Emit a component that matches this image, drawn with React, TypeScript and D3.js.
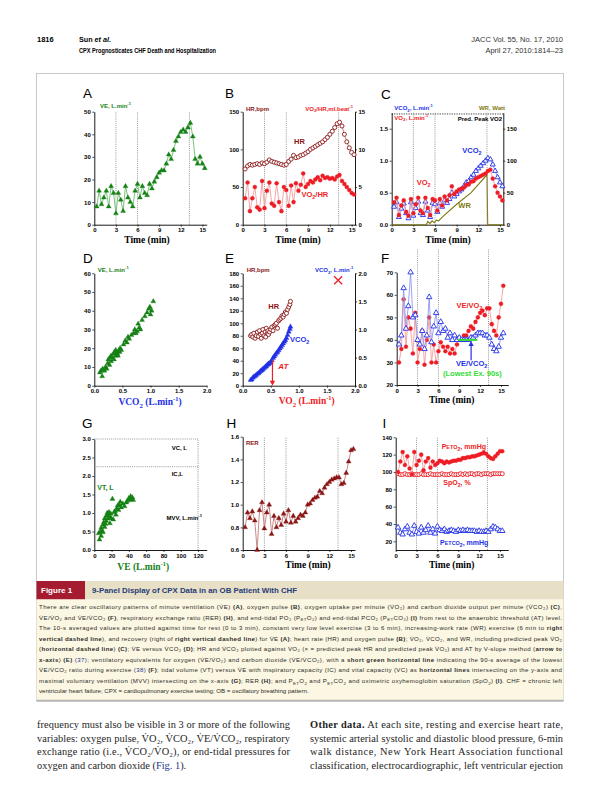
import * as d3 from 'd3';
import { useEffect, useRef } from 'react';

// 10-s averaged CPX data, read every 20 s (minutes)
const TIME = [0.33, 0.67, 1, 1.33, 1.67, 2, 2.33, 2.67, 3, 3.33, 3.67, 4, 4.33, 4.67, 5, 5.33, 5.67, 6, 6.33, 6.67, 7, 7.33, 7.67, 8, 8.33, 8.67, 9, 9.33, 9.67, 10, 10.33, 10.67, 11, 11.33, 11.67, 12, 12.33, 12.67, 13, 13.33, 13.67, 14, 14.33, 14.67, 15, 15.33];
const PHASE_LINES = [3, 6, 13.2];

// A: minute ventilation (L/min)
const VE = [8, 15, 9, 12, 15, 8, 17, 14, 5, 14, 11, 6, 17, 12, 10, 8, 15, 18, 12, 17, 14, 13, 18, 16, 19, 21, 23, 24, 24, 27, 31, 29, 33, 37, 39, 41, 42, 41, 43, 45, 39, 29, 27, 30, 27, 25];
// B: heart rate (bpm) and oxygen pulse (ml/beat)
const HR = [74, 78, 80, 79, 80, 81, 80, 82, 81, 83, 86, 84, 83, 82, 81, 80, 79, 80, 84, 87, 92, 89, 90, 92, 93, 95, 97, 100, 102, 104, 106, 108, 110, 113, 116, 120, 124, 129, 134, 136, 131, 120, 110, 102, 96, 93];
const O2_PULSE = [3.5, 5.6, 1.8, 3.5, 5.0, 2.3, 2.0, 5.8, 2.2, 4.5, 5.6, 2.8, 2.5, 5.5, 3.0, 1.8, 5.0, 4.6, 2.5, 5.2, 3.0, 5.5, 4.5, 5.3, 6.8, 5.0, 5.4, 5.8, 5.6, 6.0, 6.3, 5.9, 6.5, 6.2, 6.3, 6.1, 6.2, 6.0, 6.4, 6.6, 5.8, 5.4, 5.0, 4.6, 4.2, 4.0];
// C: VO2, VCO2 (L/min) and work rate (W)
const VO2 = [0.35, 0.42, 0.15, 0.30, 0.38, 0.20, 0.14, 0.40, 0.18, 0.32, 0.42, 0.22, 0.18, 0.42, 0.26, 0.15, 0.40, 0.38, 0.22, 0.40, 0.30, 0.44, 0.38, 0.46, 0.60, 0.48, 0.52, 0.55, 0.56, 0.58, 0.62, 0.63, 0.67, 0.68, 0.72, 0.74, 0.76, 0.78, 0.80, 0.84, 0.86, 0.72, 0.60, 0.50, 0.44, 0.38];
const VCO2 = [0.28, 0.35, 0.12, 0.25, 0.33, 0.18, 0.10, 0.35, 0.14, 0.26, 0.36, 0.18, 0.15, 0.36, 0.22, 0.12, 0.34, 0.32, 0.20, 0.34, 0.28, 0.38, 0.34, 0.40, 0.50, 0.44, 0.48, 0.52, 0.55, 0.60, 0.66, 0.68, 0.74, 0.78, 0.84, 0.88, 0.92, 0.96, 1.00, 1.04, 1.02, 0.94, 0.84, 0.74, 0.66, 0.60];
const WR_TIME = [0, 4.8, 5.0, 5.3, 5.6, 5.9, 6.2, 6.5, 7.0, 9.0, 11.0, 13.2, 13.3, 15.4];
const WR_WATT = [0, 0, 5, 2, 6, 3, 7, 6, 12, 32, 50, 78, 0, 0];
const PRED_PEAK_VO2 = 1.73;
// D: VE versus VCO2
const VCO2_D = [0.10, 0.12, 0.14, 0.15, 0.18, 0.20, 0.22, 0.24, 0.25, 0.27, 0.28, 0.30, 0.30, 0.32, 0.34, 0.35, 0.36, 0.38, 0.38, 0.40, 0.41, 0.42, 0.44, 0.45, 0.46, 0.48, 0.52, 0.55, 0.58, 0.60, 0.62, 0.66, 0.70, 0.72, 0.74, 0.76, 0.78, 0.80, 0.82, 0.85, 0.90, 0.94, 0.97, 0.99, 1.00, 1.02, 1.05];
const VE_D = [7, 8, 5, 9, 8, 10, 9, 12, 14, 11, 15, 13, 16, 15, 17, 14, 18, 16, 19, 18, 17, 16, 19, 18, 20, 19, 22, 24, 23, 26, 25, 27, 28, 30, 28, 29, 33, 31, 30, 35, 37, 39, 41, 42, 38, 40, 45];
// E: HR and VCO2 versus VO2
const VO2_E = [0.14, 0.16, 0.18, 0.20, 0.22, 0.24, 0.26, 0.28, 0.30, 0.32, 0.33, 0.35, 0.36, 0.38, 0.40, 0.41, 0.42, 0.44, 0.45, 0.46, 0.48, 0.50, 0.52, 0.54, 0.56, 0.58, 0.60, 0.62, 0.64, 0.66, 0.68, 0.70, 0.72, 0.74, 0.76, 0.78, 0.80, 0.82, 0.84, 0.85];
const HR_E = [80, 82, 78, 84, 76, 80, 86, 79, 88, 82, 76, 84, 90, 80, 86, 78, 92, 84, 88, 82, 86, 90, 94, 88, 96, 98, 100, 92, 104, 106, 108, 112, 110, 114, 118, 116, 122, 126, 130, 135];
const VCO2_E = [0.10, 0.11, 0.14, 0.16, 0.17, 0.19, 0.21, 0.22, 0.24, 0.26, 0.27, 0.28, 0.30, 0.31, 0.33, 0.34, 0.35, 0.37, 0.38, 0.39, 0.40, 0.42, 0.45, 0.49, 0.52, 0.55, 0.58, 0.60, 0.63, 0.66, 0.69, 0.72, 0.75, 0.78, 0.81, 0.85, 0.90, 0.96, 1.01, 1.05];
const AT_VO2 = 0.53;
const AT_VCO2 = 0.46;
const PRED_PEAK = { vo2: 1.7, hr: 169 };
// F: ventilatory equivalents
const VE_VO2 = [30, 36, 58, 37, 50, 45, 34, 52, 30, 36, 44, 29, 40, 50, 30, 38, 30, 35, 39, 37, 35, 37, 34, 36, 34, 38, 41, 40, 42, 42, 44, 46, 45, 48, 50, 52, 53, 51, 54, 54, 47, 44, 42, 50, 56, 64];
const VE_VCO2 = [38, 42, 63, 45, 55, 70, 50, 51, 40, 38, 44, 36, 42, 59, 39, 46, 52, 43, 48, 44, 45, 41, 43, 40, 42, 40, 41, 40, 40, 40, 40, 41, 41, 42, 43, 43, 43, 42, 42, 41, 38, 36, 35, 37, 41, 43];
const LOWEST_90S = { from: 8.8, to: 11.6, value: 40 };
// G: tidal volume versus VE
const VE_G = [5, 6, 7, 8, 8, 9, 10, 10, 11, 12, 12, 13, 14, 14, 15, 16, 16, 17, 18, 18, 19, 20, 21, 22, 23, 24, 25, 26, 27, 28, 29, 30, 31, 33, 35, 37, 38, 40, 41, 42, 43, 44, 45];
const VT_G = [0.45, 0.28, 0.50, 0.38, 0.60, 0.52, 0.68, 0.48, 0.75, 0.62, 0.85, 0.70, 0.92, 0.78, 1.00, 0.85, 0.95, 1.02, 0.90, 0.72, 0.98, 0.85, 1.38, 0.82, 1.02, 1.05, 0.95, 1.12, 1.20, 1.08, 1.22, 1.30, 1.15, 1.25, 1.18, 1.28, 1.32, 1.40, 1.35, 1.45, 1.38, 1.42, 1.35];
const VC = 3.0;
const IC = 2.25;
const MVV = 120;
// H: respiratory exchange ratio
const RER = [0.80, 0.93, 0.88, 0.94, 0.86, 0.60, 0.95, 1.02, 0.79, 0.93, 1.00, 0.74, 0.90, 0.80, 0.88, 0.82, 0.92, 0.85, 0.95, 0.84, 0.90, 0.85, 0.88, 0.91, 0.90, 0.93, 1.00, 1.01, 1.04, 1.06, 1.07, 1.12, 1.10, 1.15, 1.18, 1.20, 1.22, 1.23, 1.24, 1.24, 1.18, 1.19, 1.28, 1.38, 1.48, 1.49];
// I: end-tidal pressures and saturation
const PETO2 = [100, 112, 123, 108, 118, 104, 97, 123, 108, 113, 120, 102, 112, 116, 105, 112, 108, 110, 113, 112, 110, 112, 111, 112, 113, 113, 114, 114, 116, 116, 117, 117, 118, 118, 119, 120, 121, 122, 121, 118, 116, 115, 118, 121, 124, 124];
const SPO2 = [98, 97, 97, 98, 97, 97, 98, 97, 97, 97, 98, 97, 97, 97, 98, 97, 97, 97, 97, 98, 97, 97, 97, 98, 97, 97, 97, 98, 97, 98, 97, 98, 98, 97, 98, 98, 97, 98, 98, 98, 97, 98, 98, 98, 98, 98];
const PETCO2 = [36, 30, 28, 34, 37, 30, 28, 38, 31, 29, 36, 30, 33, 38, 30, 34, 29, 37, 33, 32, 34, 31, 32, 33, 32, 31, 33, 32, 33, 32, 33, 32, 32, 32, 31, 32, 31, 31, 32, 31, 34, 37, 36, 34, 32, 32];

const TIME_TICKS = [0, 3, 6, 9, 12, 15];

const GREEN = '#168216';
const GREEN_LINE = '#6dbb6d';
const BROWN = '#8a1616';
const BROWN_LINE = '#c47a7a';
const RED = '#ee1c24';
const RED_LINE = '#f59c9c';
const BLUE = '#2230e6';
const BLUE_LINE = '#9097f0';
const OLIVE = '#7e7a10';
const LIME = '#33dd33';
const LINK = '#26348f';

const SANS = '"Liberation Sans", Arial, sans-serif';
const SERIF = '"Liberation Serif", "Times New Roman", serif';

const sub = (s: string) => [s, 'sub'];
const sup = (s: string) => [s, 'sup'];

// text with sub/superscripts, bold/link runs
function rich(parent: any, x: number, y: number, parts: any[], o: any = {}) {
  const size = o.size ?? 6;
  const t = parent
    .append('text')
    .attr('x', x)
    .attr('y', y)
    .attr('text-anchor', o.anchor ?? 'start')
    .attr('fill', o.color ?? '#000')
    .style('font-family', o.family ?? SANS)
    .style('font-size', `${size}px`)
    .style('font-weight', o.weight ?? 'bold');
  if (o.italic) t.style('font-style', 'italic');
  let shift = 0;
  for (const [s, k] of parts) {
    const ts = t.append('tspan').text(s);
    let target = 0;
    if (k === 'sub') {
      target = size * 0.28;
      ts.style('font-size', `${size * 0.72}px`);
    } else if (k === 'sup') {
      target = -size * 0.42;
      ts.style('font-size', `${size * 0.68}px`);
    } else if (k === 'sm') {
      ts.style('font-size', `${size * 0.78}px`);
    } else if (k === 'b') {
      ts.style('font-weight', 'bold');
    } else if (k === 'bi') {
      ts.style('font-weight', 'bold').style('font-style', 'italic');
    } else if (k === 'l') {
      ts.attr('fill', LINK);
    }
    if (target !== shift) {
      ts.attr('dy', target - shift);
      shift = target;
    }
  }
  if (o.width) t.attr('textLength', o.width).attr('lengthAdjust', o.adjust ?? 'spacing');
  return t;
}

function frame(svg: any, o: any) {
  const g = svg.append('g');
  const x = d3.scaleLinear().domain(o.xd).range([o.l, o.r]);
  const y = d3.scaleLinear().domain(o.yd).range([o.b, o.t]);
  const yR = o.yrd ? d3.scaleLinear().domain(o.yrd).range([o.b, o.t]) : null;

  if (o.phase) {
    g.selectAll(null)
      .data(o.phase)
      .join('line')
      .attr('x1', (d: number) => x(d))
      .attr('x2', (d: number) => x(d))
      .attr('y1', o.b)
      .attr('y2', o.phaseTop ?? o.t)
      .attr('stroke', '#8c8c8c')
      .attr('stroke-width', 0.9)
      .attr('stroke-dasharray', '1,1.1');
  }

  const style = (sel: any) => {
    sel.attr('font-family', SANS).attr('font-size', 6).attr('font-weight', 'bold');
    sel.select('.domain').attr('stroke-width', 0.9);
    sel.selectAll('.tick line').attr('stroke-width', 0.7);
  };
  const fmt = (f: string | undefined) => (f ? d3.format(f) : d3.format('d'));

  g.append('g')
    .attr('transform', `translate(0,${o.b})`)
    .call(d3.axisBottom(x).tickValues(o.xt ?? TIME_TICKS).tickFormat(fmt(o.xf) as any).tickSize(2).tickSizeOuter(0).tickPadding(1.5))
    .call(style);
  g.append('g')
    .attr('transform', `translate(${o.l},0)`)
    .call(d3.axisLeft(y).tickValues(o.yt).tickFormat(fmt(o.yf) as any).tickSize(2).tickSizeOuter(0).tickPadding(1.5))
    .call(style);
  if (yR) {
    g.append('g')
      .attr('transform', `translate(${o.r},0)`)
      .call(d3.axisRight(yR).tickValues(o.yrt).tickFormat(fmt(o.yrf) as any).tickSize(2).tickSizeOuter(0).tickPadding(1.5))
      .call(style);
  }
  return { g, x, y, yR };
}

function plot(g: any, xs: number[], ys: number[], x: any, y: any, o: any) {
  const pts = xs.map((v, i) => [x(v), y(ys[i])] as [number, number]);
  if (o.line) {
    g.append('path')
      .attr('d', d3.line()(pts))
      .attr('fill', 'none')
      .attr('stroke', o.line)
      .attr('stroke-width', 0.9);
  }
  const sym = o.shape === 'tri' ? d3.symbol(d3.symbolTriangle, o.size ?? 11) : d3.symbol(d3.symbolCircle, o.size ?? 13);
  g.append('g')
    .selectAll('path')
    .data(pts)
    .join('path')
    .attr('transform', (d: number[]) => `translate(${d[0]},${d[1]})`)
    .attr('d', sym() as string)
    .attr('fill', o.open ? '#fff' : o.color)
    .attr('stroke', o.color)
    .attr('stroke-width', o.open ? 0.9 : 0.3);
}

function letter(svg: any, x: number, y: number, s: string) {
  svg
    .append('text')
    .attr('x', x)
    .attr('y', y)
    .style('font-family', SANS)
    .style('font-size', '13.5px')
    .text(s);
}

function timeTitle(svg: any, x: number, y: number) {
  rich(svg, x, y, [['Time (min)']], { anchor: 'middle', family: SERIF, size: 9.5 });
}

function arrowHead(g: any, x: number, y: number, dir: number, color: string) {
  // dir = 1 pointing down, -1 pointing up
  g.append('path')
    .attr('d', `M${x - 2.6},${y - 5 * dir} L${x},${y} L${x + 2.6},${y - 5 * dir} Z`)
    .attr('fill', color);
}

const CAPTION: any[][] = [
  [['There are clear oscillatory patterns of minute ventilation (V\u0307E) '], ['(A)', 'b'], [', oxygen pulse '], ['(B)', 'b'], [', oxygen uptake per minute (V\u0307O\u2082) and carbon dioxide output per minute (V\u0307CO\u2082) '], ['(C)', 'b'], [',']],
  [['V\u0307E/V\u0307O\u2082 and V\u0307E/V\u0307CO\u2082 '], ['(F)', 'b'], [', respiratory exchange ratio (RER) '], ['(H)', 'b'], [', and end-tidal PO\u2082 (P'], sub('ET'), ['O\u2082) and end-tidal PCO\u2082 (P'], sub('ET'), ['CO\u2082) '], ['(I)', 'b'], [' from rest to the anaerobic threshold (AT) level.']],
  [['The 10-s averaged values are plotted against time for rest (0 to 3 min), constant very low level exercise (3 to 6 min), increasing-work rate (WR) exercise (6 min to '], ['right', 'b']],
  [['vertical dashed line', 'b'], ['), and recovery (right of '], ['right vertical dashed line', 'b'], [') for V\u0307E '], ['(A)', 'b'], ['; heart rate (HR) and oxygen pulse '], ['(B)', 'b'], ['; V\u0307O\u2082, V\u0307CO\u2082, and WR, including predicted peak V\u0307O\u2082']],
  [['('], ['horizontal dashed line', 'b'], [') '], ['(C)', 'b'], ['; V\u0307E versus V\u0307CO\u2082 '], ['(D)', 'b'], ['; HR and V\u0307CO\u2082 plotted against V\u0307O\u2082 (\u00d7 = predicted peak HR and predicted peak V\u0307O\u2082) and AT by V-slope method ('], ['arrow to', 'b']],
  [['x-axis', 'b'], [') '], ['(E)', 'b'], [' '], ['(37)', 'l'], ['; ventilatory equivalents for oxygen (V\u0307E/V\u0307O\u2082) and carbon dioxide (V\u0307E/V\u0307CO\u2082), with a '], ['short green horizontal line', 'b'], [' indicating the 90-s average of the lowest']],
  [['V\u0307E/V\u0307CO\u2082 ratio during exercise '], ['(38)', 'l'], [' '], ['(F)', 'b'], ['; tidal volume (VT) versus V\u0307E with inspiratory capacity (IC) and vital capacity (VC) as '], ['horizontal lines', 'b'], [' intersecting on the y-axis and']],
  [['maximal voluntary ventilation (MVV) intersecting on the x-axis '], ['(G)', 'b'], ['; RER '], ['(H)', 'b'], ['; and P'], sub('ET'), ['O'], sub('2'), [' and P'], sub('ET'), ['CO'], sub('2'), [' and oximetric oxyhemoglobin saturation (SpO'], sub('2'), [') '], ['(I)', 'b'], ['. CHF = chronic left']],
  [['ventricular heart failure; CPX = cardiopulmonary exercise testing; OB = oscillatory breathing pattern.']],
];

const BODY_LEFT: any[][] = [
  [['frequency must also be visible in 3 or more of the following']],
  [['variables: oxygen pulse, V\u0307O\u2082, V\u0307CO\u2082, V\u0307E/V\u0307CO\u2082, respiratory']],
  [['exchange ratio (i.e., V\u0307CO\u2082/V\u0307O\u2082), or end-tidal pressures for']],
  [['oxygen and carbon dioxide ('], ['Fig. 1', 'l'], [').']],
];
const BODY_RIGHT: any[][] = [
  [['Other data.', 'b'], [' At each site, resting and exercise heart rate,']],
  [['systemic arterial systolic and diastolic blood pressure, 6-min']],
  [['walk distance, New York Heart Association functional']],
  [['classification, electrocardiographic, left ventricular ejection']],
];

function drawPage(svg: any) {
  // ---- running head ----
  rich(svg, 37, 42, [['1816']], { size: 7.5 });
  rich(svg, 79, 42, [['Sun '], ['et al.', 'bi']], { size: 7.2 });
  rich(svg, 79, 53, [['CPX Prognosticates CHF Death and Hospitalization']], { size: 7.8, width: 137, adjust: 'spacingAndGlyphs' });
  rich(svg, 563, 42, [['JACC Vol. 55, No. 17, 2010']], { size: 7.5, weight: 'normal', anchor: 'end', color: '#333' });
  rich(svg, 563, 53, [['April 27, 2010:1814\u201323']], { size: 7.5, weight: 'normal', anchor: 'end', color: '#333' });

  // ---- figure frame ----
  svg.append('rect').attr('x', 36.5).attr('y', 73.5).attr('width', 527).attr('height', 627).attr('fill', 'none').attr('stroke', '#c4c4c4').attr('stroke-width', 0.9);

  // ---- A ----
  letter(svg, 83, 98.3, 'A');
  const A = frame(svg, { l: 94.3, r: 206.7, t: 111.7, b: 224.7, xd: [0, 15.6], yd: [0, 50], yt: [0, 10, 20, 30, 40, 50], phase: PHASE_LINES });
  plot(A.g, TIME, VE, A.x, A.y, { shape: 'tri', color: GREEN, line: GREEN_LINE });
  rich(svg, 100, 107.5, [['VE, L.min'], sup('-1')], { color: GREEN });
  timeTitle(svg, 147, 243);

  // ---- B ----
  letter(svg, 225, 98.3, 'B');
  const B = frame(svg, { l: 242.7, r: 355, t: 111.7, b: 224.7, xd: [0, 15.46], yd: [0, 150], yt: [0, 50, 100, 150], yrd: [0, 15], yrt: [0, 5, 10, 15], phase: PHASE_LINES });
  plot(B.g, TIME, HR, B.x, B.y, { shape: 'circle', color: BROWN, line: BROWN_LINE, open: true });
  plot(B.g, TIME, O2_PULSE, B.x, B.yR, { shape: 'circle', color: RED, line: RED_LINE });
  rich(svg, 246, 110.5, [['HR,bpm']], { color: BROWN });
  rich(svg, 353, 110.5, [['VO'], sub('2'), ['/HR,ml.beat'], sup('-1')], { color: RED, anchor: 'end' });
  rich(svg, 294, 144, [['HR']], { color: BROWN, size: 7.5 });
  rich(svg, 301.5, 196.5, [['VO'], sub('2'), ['/HR']], { color: RED, size: 7.5 });
  timeTitle(svg, 298, 243);

  // ---- C ----
  letter(svg, 381, 99, 'C');
  const C = frame(svg, { l: 391.7, r: 503.3, t: 112.7, b: 224.7, xd: [0, 15.46], yd: [0, 1.75], yt: [0, 0.5, 1, 1.5], yf: '.1f', yrd: [0, 175], yrt: [0, 50, 100, 150] });
  C.g.append('line')
    .attr('x1', C.x(0)).attr('x2', C.x(15.46))
    .attr('y1', C.y(PRED_PEAK_VO2)).attr('y2', C.y(PRED_PEAK_VO2))
    .attr('stroke', '#222').attr('stroke-width', 0.9).attr('stroke-dasharray', '1.2,1.2');
  C.g.append('path')
    .attr('d', d3.line<number>().x((v) => C.x(v)).y((_, i) => C.yR!(WR_WATT[i]))(WR_TIME))
    .attr('fill', 'none').attr('stroke', OLIVE).attr('stroke-width', 1.1);
  C.g.selectAll(null).data(PHASE_LINES).join('line')
    .attr('x1', (d: number) => C.x(d)).attr('x2', (d: number) => C.x(d))
    .attr('y1', C.y(0)).attr('y2', C.y(1.75))
    .attr('stroke', '#8c8c8c').attr('stroke-width', 0.9).attr('stroke-dasharray', '1,1.1');
  plot(C.g, TIME, VCO2, C.x, C.y, { shape: 'tri', color: BLUE, line: BLUE_LINE, open: true });
  plot(C.g, TIME, VO2, C.x, C.y, { shape: 'circle', color: RED, line: RED_LINE });
  rich(svg, 394.3, 110, [['VCO'], sub('2'), [', L.min'], sup('-1')], { color: BLUE });
  rich(svg, 394.3, 119.5, [['VO'], sub('2'), [', L.min'], sup('-1')], { color: RED });
  rich(svg, 505, 109.5, [['WR, Watt']], { color: OLIVE, anchor: 'end' });
  rich(svg, 502, 121, [['Pred. Peak VO2']], { anchor: 'end' });
  rich(svg, 462.3, 153, [['VCO'], sub('2')], { color: BLUE, size: 7.5 });
  rich(svg, 416.7, 184.5, [['VO'], sub('2')], { color: RED, size: 7.5 });
  rich(svg, 458.3, 207.5, [['WR']], { color: OLIVE, size: 7.5 });
  timeTitle(svg, 448, 243);

  // ---- D ----
  letter(svg, 83, 263.3, 'D');
  const D = frame(svg, { l: 94.3, r: 206.7, t: 273.3, b: 385.7, xd: [0, 2], yd: [0, 60], xt: [0, 0.5, 1, 1.5, 2], xf: '.1f', yt: [0, 10, 20, 30, 40, 50, 60] });
  plot(D.g, VCO2_D, VE_D, D.x, D.y, { shape: 'tri', color: GREEN });
  rich(svg, 97.7, 272, [['VE, L.min'], sup('-1')], { color: GREEN });
  rich(svg, 150, 405, [['VCO'], sub('2'), [' (L.min'], sup('-1'), [')']], { anchor: 'middle', family: SERIF, size: 9.5, color: BLUE });

  // ---- E ----
  letter(svg, 225, 263.3, 'E');
  const E = frame(svg, { l: 242.7, r: 355, t: 273.3, b: 385.7, xd: [0, 2], yd: [0, 180], xt: [0, 0.5, 1, 1.5, 2], xf: '.1f', yt: [0, 20, 40, 60, 80, 100, 120, 140, 160, 180], yrd: [0, 2], yrt: [0, 0.5, 1, 1.5, 2], yrf: '.1f' });
  plot(E.g, VO2_E, HR_E, E.x, E.y, { shape: 'circle', color: BROWN, open: true });
  plot(E.g, VO2_E, VCO2_E, E.x, E.yR, { shape: 'tri', color: BLUE });
  const px = E.x(PRED_PEAK.vo2);
  const py = E.y(PRED_PEAK.hr);
  E.g.append('path')
    .attr('d', `M${px - 4},${py - 4}L${px + 4},${py + 4}M${px - 4},${py + 4}L${px + 4},${py - 4}`)
    .attr('stroke', RED).attr('stroke-width', 1.3);
  E.g.append('line')
    .attr('x1', E.x(AT_VO2)).attr('x2', E.x(AT_VO2))
    .attr('y1', E.yR!(AT_VCO2)).attr('y2', E.yR!(0) - 4)
    .attr('stroke', RED).attr('stroke-width', 1.2);
  arrowHead(E.g, E.x(AT_VO2), E.yR!(0), 1, RED);
  rich(svg, 246.7, 272, [['HR,bpm']], { color: BROWN });
  rich(svg, 353.3, 272, [['VCO'], sub('2'), [', L.min'], sup('-1')], { color: BLUE, anchor: 'end' });
  rich(svg, 268.3, 308.5, [['HR']], { color: BROWN, size: 7.5 });
  rich(svg, 290, 342, [['VCO'], sub('2')], { color: BLUE, size: 7.5 });
  rich(svg, 278.3, 368.5, [['AT']], { color: RED, size: 8, italic: true });
  rich(svg, 306.7, 404, [['VO'], sub('2'), [' (L.min'], sup('-1'), [')']], { anchor: 'middle', family: SERIF, size: 9.5, color: RED });

  // ---- F ----
  letter(svg, 381, 263.3, 'F');
  const F = frame(svg, { l: 396.7, r: 508.3, t: 272.3, b: 385, xd: [0, 16.05], yd: [20, 70], yt: [20, 30, 40, 50, 60, 70], phase: PHASE_LINES, phaseTop: 249 });
  plot(F.g, TIME, VE_VO2, F.x, F.y, { shape: 'circle', color: RED, line: RED_LINE });
  plot(F.g, TIME, VE_VCO2, F.x, F.y, { shape: 'tri', color: BLUE, line: BLUE_LINE, open: true, size: 13 });
  F.g.append('line')
    .attr('x1', F.x(LOWEST_90S.from)).attr('x2', F.x(LOWEST_90S.to))
    .attr('y1', F.y(LOWEST_90S.value)).attr('y2', F.y(LOWEST_90S.value))
    .attr('stroke', LIME).attr('stroke-width', 2);
  const fx = F.x(10.7);
  F.g.append('line')
    .attr('x1', fx).attr('x2', fx)
    .attr('y1', F.y(31)).attr('y2', F.y(LOWEST_90S.value) + 5)
    .attr('stroke', BLUE).attr('stroke-width', 1.2);
  arrowHead(F.g, fx, F.y(LOWEST_90S.value) + 1, -1, BLUE);
  rich(svg, 456.5, 307.5, [['VE/VO'], sub('2')], { color: RED, size: 7.5 });
  rich(svg, 456, 365.5, [['VE/VCO'], sub('2')], { color: BLUE, size: 7.5 });
  rich(svg, 443, 375.5, [['(Lowest Ex. 90s)']], { color: LIME, size: 7.5 });
  timeTitle(svg, 451.7, 402.5);

  // ---- G ----
  letter(svg, 82, 428.3, 'G');
  const G = frame(svg, { l: 94.3, r: 206.7, t: 439, b: 550, xd: [0, 130], yd: [0, 3], xt: [0, 20, 40, 60, 80, 100, 120], yt: [0, 0.5, 1, 1.5, 2, 2.5, 3], yf: '.1f' });
  G.g.selectAll(null).data([VC, IC]).join('line')
    .attr('x1', G.x(0)).attr('x2', G.x(MVV))
    .attr('y1', (d: number) => G.y(d)).attr('y2', (d: number) => G.y(d))
    .attr('stroke', '#8c8c8c').attr('stroke-width', 0.9).attr('stroke-dasharray', '1,1.1');
  G.g.append('line')
    .attr('x1', G.x(MVV)).attr('x2', G.x(MVV))
    .attr('y1', G.y(0)).attr('y2', G.y(VC))
    .attr('stroke', '#8c8c8c').attr('stroke-width', 0.9).attr('stroke-dasharray', '1,1.1');
  plot(G.g, VE_G, VT_G, G.x, G.y, { shape: 'tri', color: GREEN });
  rich(svg, 171.7, 449.5, [['VC, L']], {});
  rich(svg, 171.7, 476, [['IC,L']], {});
  rich(svg, 166.5, 520, [['MVV, L.min'], sup('-1')], {});
  rich(svg, 97.3, 490, [['VT, L']], { color: GREEN, size: 7 });
  rich(svg, 143.3, 569.5, [['VE (L.min'], sup('-1'), [')']], { anchor: 'middle', family: SERIF, size: 9.5, color: GREEN });

  // ---- H ----
  letter(svg, 226.5, 428.3, 'H');
  const H = frame(svg, { l: 242.7, r: 355, t: 436.7, b: 550, xd: [0, 15.55], yd: [0.6, 1.6], yt: [0.6, 0.8, 1, 1.2, 1.4, 1.6], yf: '.1f', phase: PHASE_LINES });
  plot(H.g, TIME, RER, H.x, H.y, { shape: 'tri', color: BROWN, line: BROWN_LINE });
  rich(svg, 246, 444.5, [['RER']], { color: BROWN });
  timeTitle(svg, 308, 567.5);

  // ---- I ----
  letter(svg, 382.5, 428.3, 'I');
  const I = frame(svg, { l: 395.7, r: 508.3, t: 437.3, b: 550, xd: [0, 16.2], yd: [10, 140], yt: [20, 40, 60, 80, 100, 120, 140], phase: PHASE_LINES });
  plot(I.g, TIME, PETCO2, I.x, I.y, { shape: 'tri', color: BLUE, line: BLUE_LINE, open: true, size: 13 });
  plot(I.g, TIME, SPO2, I.x, I.y, { shape: 'circle', color: RED, line: RED_LINE, open: true });
  plot(I.g, TIME, PETO2, I.x, I.y, { shape: 'circle', color: RED, line: RED_LINE });
  rich(svg, 441.7, 449, [['P'], ['ETO', 'sm'], sub('2'), [', mmHg']], { color: RED, size: 7 });
  rich(svg, 443.3, 485, [['SpO'], sub('2'), [', %']], { color: RED, size: 7 });
  rich(svg, 440, 545, [['P'], ['ETCO', 'sm'], sub('2'), [', mmHg']], { color: BLUE, size: 7 });
  timeTitle(svg, 451.7, 567.5);

  // ---- legend bar and caption ----
  svg.append('rect').attr('x', 36.5).attr('y', 581).attr('width', 48.5).attr('height', 18.5).attr('fill', '#a51c30');
  svg.append('rect').attr('x', 85).attr('y', 581).attr('width', 478.5).attr('height', 18.5).attr('fill', '#e8dfc7');
  rich(svg, 41, 593.3, [['Figure 1']], { size: 8, color: '#fff' });
  rich(svg, 92, 593.3, [['9-Panel Display of CPX Data in an OB Patient With CHF']], { size: 7.6, color: '#1f3c78', width: 205, adjust: 'spacingAndGlyphs' });
  svg.append('rect').attr('x', 36.5).attr('y', 599.5).attr('width', 527).attr('height', 100.5).attr('fill', '#fcf7e2');
  svg.append('line').attr('x1', 36.5).attr('x2', 563.5).attr('y1', 700.8).attr('y2', 700.8).attr('stroke', '#b5b5b5').attr('stroke-width', 2);
  CAPTION.forEach((parts, i) => {
    const last = i === CAPTION.length - 1;
    rich(svg, 39, 609 + i * 10.55, parts, { size: 6.1, weight: 'normal', color: '#2b2b2b', width: last ? undefined : 523 });
  });

  // ---- body text ----
  BODY_LEFT.forEach((parts, i) => {
    const last = i === BODY_LEFT.length - 1;
    rich(svg, 37, 728 + i * 13.6, parts, { size: 10.4, weight: 'normal', family: SERIF, color: '#1e1e1e', width: last ? undefined : 253 });
  });
  BODY_RIGHT.forEach((parts, i) => {
    rich(svg, 310, 728 + i * 13.6, parts, { size: 10.4, weight: 'normal', family: SERIF, color: '#1e1e1e', width: 253 });
  });
}

export default function App() {
  const svgRef = useRef<SVGSVGElement>(null);

  useEffect(() => {
    if (!svgRef.current) return;
    const svg = d3.select(svgRef.current);
    svg.selectAll('*').remove();
    drawPage(svg);
  }, []);

  return (
    <svg
      ref={svgRef}
      width={600}
      height={806}
      style={{ position: 'absolute', left: 0, top: 0, background: '#fff' }}
    />
  );
}
